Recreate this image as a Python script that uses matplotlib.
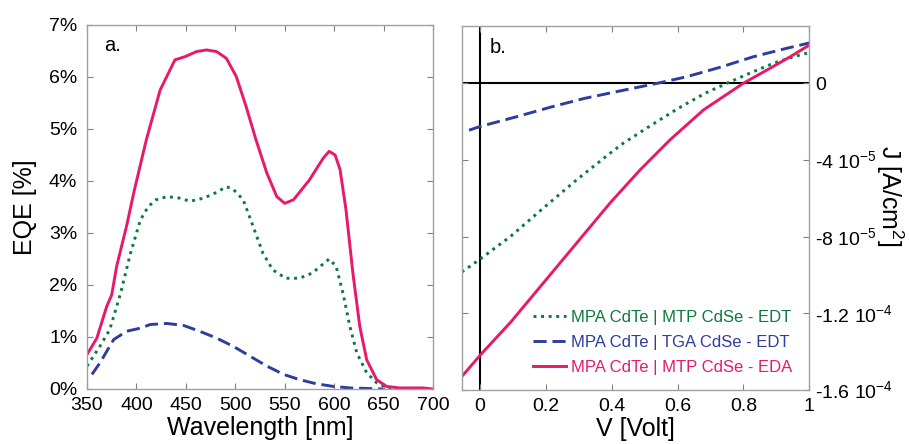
import matplotlib.pyplot as plt
import numpy as np

plt.rcParams['font.family'] = ['Liberation Sans', 'DejaVu Sans']
plt.rcParams['mathtext.fontset'] = 'custom'
plt.rcParams['mathtext.rm'] = 'Liberation Sans'

PINK = '#e8196b'
GREEN = '#0b7a3c'
BLUE = '#2d3d9a'

# panel a: EQE spectra
wl_eda = [350, 360, 370, 375, 380, 390, 398, 410, 424, 439, 449, 461, 471, 481, 491,
          501, 511, 521, 532, 542, 550, 559, 575, 589, 595, 601, 606, 612, 619, 626,
          633, 643, 653, 666, 690, 700]
eqe_eda = [0.66, 0.98, 1.59, 1.81, 2.36, 3.13, 3.83, 4.79, 5.75, 6.33, 6.39, 6.49, 6.52,
           6.49, 6.36, 6.01, 5.43, 4.79, 4.15, 3.70, 3.57, 3.64, 4.02, 4.44, 4.57, 4.50,
           4.22, 3.45, 2.23, 1.20, 0.56, 0.18, 0.05, 0.02, 0.02, 0.0]

wl_mtp = [350, 363, 373, 384, 394, 404, 412, 420, 431, 444, 454, 468, 481, 491, 498,
          508, 518, 528, 538, 551, 565, 578, 588, 595, 602, 609, 616, 623, 633, 643,
          653, 660]
eqe_mtp = [0.44, 0.82, 1.14, 1.84, 2.61, 3.25, 3.51, 3.64, 3.70, 3.67, 3.61, 3.67, 3.78,
           3.89, 3.84, 3.64, 3.13, 2.61, 2.29, 2.13, 2.13, 2.23, 2.39, 2.50, 2.36, 1.84,
           1.20, 0.69, 0.31, 0.12, 0.03, 0.0]

wl_tga = [355, 363, 377, 390, 404, 414, 431, 448, 464, 481, 498, 515, 532, 549, 565,
          582, 599, 616, 633, 650]
eqe_tga = [0.28, 0.50, 0.95, 1.11, 1.17, 1.24, 1.26, 1.22, 1.11, 0.98, 0.82, 0.63, 0.44,
           0.28, 0.18, 0.10, 0.05, 0.02, 0.01, 0.0]

# panel b: J-V curves (J in 1e-6 A/cm2)
v_eda = [-0.055, 0.0, 0.093, 0.194, 0.295, 0.396, 0.487, 0.578, 0.679, 0.8, 0.881,
         0.942, 1.0]
j_eda = [-153.0, -142.0, -124.7, -103.9, -83.1, -62.3, -45.1, -29.4, -13.9, 0.0, 7.8,
         13.8, 19.9]

v_mtp = [-0.055, 0.0, 0.093, 0.194, 0.295, 0.396, 0.436, 0.522, 0.603, 0.684, 0.75,
         0.831, 0.891, 0.952, 1.0]
j_mtp = [-98.5, -91.8, -79.9, -64.9, -50.2, -36.4, -31.2, -21.7, -13.0, -5.2, 0.0, 6.1,
         10.4, 13.8, 16.0]

v_tga = [-0.033, 0.0, 0.113, 0.214, 0.315, 0.426, 0.548, 0.628, 0.729, 0.83, 0.931, 1.0]
j_tga = [-24.5, -22.6, -17.4, -12.5, -8.0, -4.0, 0.3, 3.4, 8.3, 13.8, 18.2, 21.0]

j_ticks = [0, -4e-5, -8e-5, -1.2e-4, -1.6e-4]
j_ticklabels = ['0', r'-4 10$^{-5}$', r'-8 10$^{-5}$', r'-1.2 10$^{-4}$', r'-1.6 10$^{-4}$']

labels = ['MPA CdTe | MTP CdSe - EDT', 'MPA CdTe | TGA CdSe - EDT',
          'MPA CdTe | MTP CdSe - EDA']

DOT = (0, (1, 1.6))
DASH = (0, (4.5, 2))
LW = 2.1

fig = plt.figure(figsize=(9.09, 4.44), dpi=100)
ax1 = fig.add_axes([0.0957, 0.1239, 0.3806, 0.8198])
ax2 = fig.add_axes([0.508, 0.1216, 0.3823, 0.8205])

for ax in (ax1, ax2):
    for s in ax.spines.values():
        s.set_color('#a0a0a0')
        s.set_linewidth(1.0)
    ax.tick_params(direction='in', top=True, right=True, left=True, bottom=True,
                   color='#808080', length=4, labelsize=14)
    ax.tick_params(axis='x', pad=6)

ax1.plot(wl_tga, eqe_tga, color=BLUE, lw=LW, ls=DASH)
ax1.plot(wl_mtp, eqe_mtp, color=GREEN, lw=LW, ls=DOT)
ax1.plot(wl_eda, eqe_eda, color=PINK, lw=LW)
ax1.set_xlim(350, 700)
ax1.set_ylim(0, 7)
ax1.set_xticks(np.arange(350, 701, 50))
ax1.set_yticks(range(0, 8))
ax1.set_yticklabels([f'{i}%' for i in range(0, 8)])
ax1.tick_params(axis='y', pad=7)
ax1.set_xlabel('Wavelength [nm]', fontsize=18, labelpad=1)
ax1.set_ylabel('EQE [%]', fontsize=18)
ax1.yaxis.set_label_coords(-0.145, 0.5)
ax1.text(0.05, 0.945, 'a.', transform=ax1.transAxes, fontsize=14.5, va='center')

ax2.axhline(0, color='black', lw=1.5, zorder=1)
ax2.axvline(0, color='black', lw=1.5, zorder=1)
l1, = ax2.plot(v_mtp, np.array(j_mtp) * 1e-6, color=GREEN, lw=LW, ls=DOT)
l2, = ax2.plot(v_tga, np.array(j_tga) * 1e-6, color=BLUE, lw=LW, ls=DASH)
l3, = ax2.plot(v_eda, np.array(j_eda) * 1e-6, color=PINK, lw=LW)
ax2.set_xlim(-0.055, 1.0)
ax2.set_ylim(-1.6e-4, 3e-5)
ax2.set_xticks([0, 0.2, 0.4, 0.6, 0.8, 1])
ax2.set_xticklabels(['0', '0.2', '0.4', '0.6', '0.8', '1'])
ax2.set_yticks(j_ticks)
ax2.set_yticklabels(j_ticklabels)
ax2.yaxis.tick_right()
ax2.tick_params(left=True, labelleft=False, labelright=True)
ax2.tick_params(axis='y', pad=4)
ax2.yaxis.set_label_position('right')
ax2.set_ylabel('J [A/cm$^2$]', fontsize=18, rotation=270)
ax2.yaxis.set_label_coords(1.277, 0.535)
ax2.set_xlabel('V [Volt]', fontsize=18, labelpad=1)
ax2.text(0.08, 0.94, 'b.', transform=ax2.transAxes, fontsize=14.5, va='center')

leg = ax2.legend([l1, l2, l3], labels, loc='lower right', frameon=False, fontsize=12,
                 handlelength=2.0, handletextpad=0.3, labelspacing=0.6,
                 bbox_to_anchor=(0.995, 0.0))
for t, c in zip(leg.get_texts(), [GREEN, BLUE, PINK]):
    t.set_color(c)

fig.savefig('out.png', dpi=100)
